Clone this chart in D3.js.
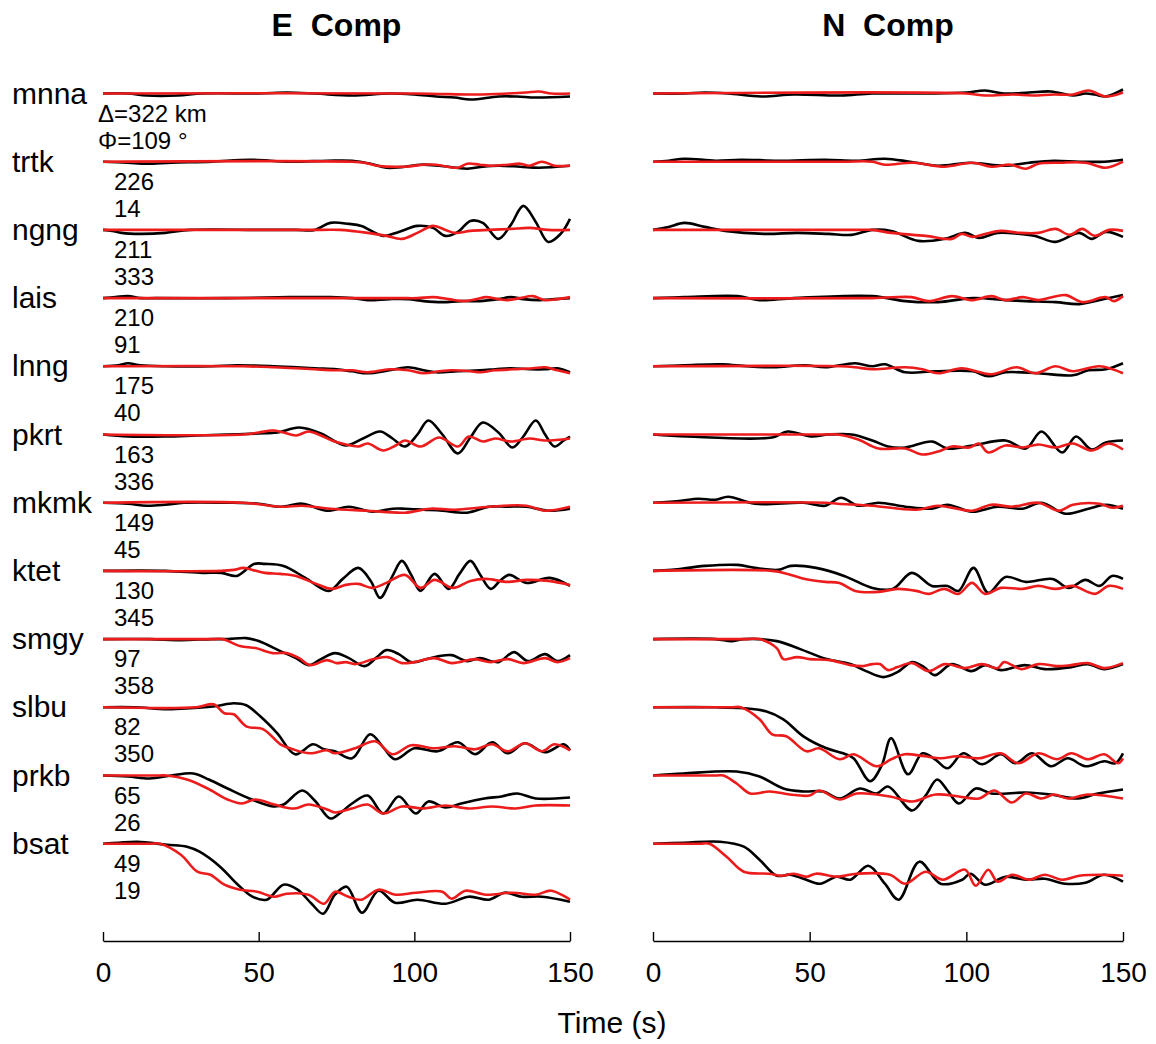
<!DOCTYPE html>
<html lang="en">
  <head>
    <meta charset="UTF-8" />
    <title>E / N Comp</title>
    <script src="https://cdn.jsdelivr.net/npm/d3@7"></script>
    <style>
      body { margin: 0; background: #fff; }
      text { font-family: "Liberation Sans", Arial, Helvetica, sans-serif; }
    </style>
  </head>
  <body>
    <div id="chart"></div>
    <script>
      // stations, top to bottom, with epicentral distance (km) and azimuth (deg)
      const stations = ["mnna", "trtk", "ngng", "lais", "lnng", "pkrt", "mkmk", "ktet", "smgy", "slbu", "prkb", "bsat"];
      const distances = [322, 226, 211, 210, 175, 163, 149, 130, 97, 82, 65, 49];
      const azimuths = [109, 14, 333, 91, 40, 336, 45, 345, 358, 350, 26, 19];
      const panelTitles = ["E  Comp", "N  Comp"];
      const timeTicks = [0, 50, 100, 150];

      // waveforms as [time (s), amplitude] pairs, one list per station
      // observed (black) and synthetic (red), E component
      const eObs = [
        [[0,0],[8,0],[14,-2],[24,-2],[32,0],[50,0],[59,1],[68,0],[80,-2],[92,0],[100,-1],[107,-3],[113,-4],[118,-6],[127,-3],[133,-3],[139,-4],[150,-3]],
        [[0,0],[8,-1],[14,-2],[22,-1],[35,0],[47,2],[60,0],[72,1],[80,1],[86,-2],[91,-6],[97,-5],[102,-3],[108,-4],[117,-7],[122,-5],[127,-4],[134,-5],[140,-6],[150,-4]],
        [[0,0],[3,-1],[6,-3],[12,-4],[20,-3],[28,0],[50,0],[62,0],[68,0],[73,7],[79,6],[83,4],[90,-6],[95,-2],[101,4],[106,2],[110,-6],[114,-2],[118,9],[122,7],[127,-9],[131,5],[135,24],[139,8],[143,-12],[147,-4],[150,11]],
        [[0,0],[4,1],[8,2],[12,0],[17,0],[40,0],[60,1],[73,1],[80,0],[85,-2],[92,-1],[98,-1],[103,-3],[109,-4],[115,-3],[121,-3],[127,-1],[131,1],[135,-1],[140,-2],[145,-1],[150,0]],
        [[0,0],[5,1],[8,3],[12,1],[20,0],[35,0],[43,1],[55,0],[68,-2],[75,-3],[80,-5],[85,-7],[92,-4],[98,-1],[103,-4],[107,-6],[114,-5],[121,-4],[126,-3],[131,-2],[137,-3],[142,-3],[146,-2],[150,-6]],
        [[0,0],[8,-2],[20,-2],[30,-1],[40,0],[50,1],[56,2],[63,7],[70,1],[74,-6],[78,-11],[83.5,-4],[89,3],[93,-4],[97,-12],[101,0],[104.5,14],[109,0],[114,-19],[118,-3],[122,12],[127,2],[131.5,-13],[135,-2],[139,14],[142,0],[145,-12],[148,-6],[150,-2]],
        [[0,0],[8,-1],[14,-3],[20,-2],[26,0],[40,0],[50,-1],[57,-4],[64,-1],[72,-8],[79,-4],[86.5,-9],[93,-6],[97,-6],[103,-7],[109,-8],[117,-10],[124,-4],[130,-4],[136,-4],[143,-8],[150,-6]],
        [[0,0],[20,0],[32,-2],[38,-2],[43,-5],[48.5,7],[52,7],[58,5],[65,-7],[72.5,-20],[77,-8],[82,3],[86,-10],[89,-27],[93,-5],[96,10],[99,-4],[102,-20],[106.5,-3],[111,-18],[114.5,-3],[118,10],[121,-3],[124.5,-18],[127.5,-10],[130.5,-4],[136,-12],[143.5,-7],[150,-15]],
        [[0,0],[15,0],[25,-1],[35,0],[40,0],[46,1],[50,-2],[57,-12],[62,-19],[66,-26],[70,-20],[74.5,-14],[79,-19],[84,-27],[88,-18],[91,-11],[95,-15],[99,-23],[104,-20],[108,-17],[112,-16],[117,-22],[121,-19],[127,-23],[132,-13],[136.5,-22],[142,-15],[146,-22],[150,-16]],
        [[0,0],[10,0],[20.5,-2],[28,-1],[36,1],[42,4],[46,2],[50.5,-9],[56,-26],[61.7,-47],[67.5,-37],[71,-42],[74.5,-44],[80,-51],[85.8,-27],[90,-40],[93.8,-52],[100,-41],[107.5,-44],[114,-35],[119.5,-47],[125,-35],[130,-46],[135.5,-36],[142,-45],[148,-37],[150,-43]],
        [[0,0],[8,-1],[15,-3],[22,0],[29,2],[34,-4],[40,-13],[47,-23],[54.7,-31],[58,-29],[64,-15],[68,-25],[73,-43],[76,-38],[80,-28],[85,-20],[90,-38],[95,-21],[100.5,-38],[104.5,-26],[110,-32],[115,-28],[122.5,-23],[128,-21],[133,-18],[139,-23],[150,-22]],
        [[0,0],[5,1],[11,2],[20.5,-1],[27,-3],[31,-8],[37.6,-23],[43,-40],[48,-53],[52.6,-56],[58,-41],[62.5,-46],[67,-60],[70.7,-70],[74.5,-51],[78.3,-43],[83.2,-69],[88.5,-47],[93.8,-59],[101,-56],[110,-60],[117.5,-53],[124,-56],[129,-49],[134.5,-53],[141,-53],[150,-58]]
      ];
      const eSyn = [
        [[0,0],[100,0],[120,-1],[130,0],[136,1],[140,2],[144,0],[150,0]],
        [[0,0],[80,0],[84,-1],[88,-4],[97,-5],[103,-3],[107,-3],[114,-6],[117,-2],[121,-3],[125,-4],[130,-3],[134,-2],[137,-4],[141,0],[145,-4],[150,-4]],
        [[0,0],[70,0],[76,0],[85,-3],[91,-6],[96,-9],[101,-3],[106,4],[110,0],[113,-3],[118,-1],[124,0],[131,1],[137,2],[143,0],[150,0]],
        [[0,0],[95,0],[101,0],[106,1],[111,-1],[116,-3],[120,-1],[123,1],[127,-1],[130,-2],[134,0],[138,2],[142,-2],[146,-1],[150,1]],
        [[0,0],[45,0],[55,-1],[62,-2],[68,-3],[75,-4],[80,-4],[85,-6],[92,-3],[98,-4],[103,-7],[108,-5],[112,-4],[118,-5],[121,-6],[126,-4],[132,-3],[138,-2],[142,-1],[146,-4],[150,-7]],
        [[0,0],[45,0],[50,2],[54.5,4],[58,2],[62,-1],[66,3],[70,-1],[73.5,-6],[78,-10],[82,-12],[85,-9],[90,-16],[94,-11],[97,-6],[102,-12],[108,-3],[114,-12],[117.5,-2],[122,-7],[126,-4],[131,-7],[137,-4],[142,-6],[150,-4]],
        [[0,0],[45,0],[57,-4],[64,-3],[73,-6],[85,-8],[97,-10],[105,-6],[113,-7],[124,-4],[136,-3],[142,-8],[150,-4]],
        [[0,0],[38,0],[42,1],[45,3],[48,1],[52,-2],[57,-3],[62,-5],[68.5,-13],[73.5,-18],[78,-14],[82,-13],[86.5,-17],[91,-12],[97,-4],[102,-17],[106.5,-9],[112.5,-17],[118,-10],[123,-8],[130,-11],[136,-9],[143,-10],[150,-14]],
        [[0,0],[35,0],[38.5,0],[44,-7],[49,-9],[54.5,-14],[59,-14],[63,-19],[66.5,-26],[72,-21],[75,-24],[78,-23],[81,-25],[87,-20],[91.5,-18],[96,-24],[100,-23],[106.5,-19],[112,-24],[119.5,-20],[124.5,-23],[130,-20],[135,-24],[142,-19],[146,-23],[150,-19]],
        [[0,0],[30,0],[35.5,3],[39,-6],[42,-7],[46,-19],[51.5,-22],[57,-37],[61,-42],[66.5,-46],[72,-43],[74.5,-46],[81,-41],[87.4,-34],[93,-47],[99,-38],[106.5,-41],[113,-39],[119.5,-42],[125,-37],[130,-44],[135.5,-36],[141,-44],[145,-37],[150,-43]],
        [[0,0],[18,0],[20.5,0],[27,-4],[33.6,-13],[40,-24],[44.5,-28],[49,-24],[55,-29],[61.5,-33],[66,-29],[72,-34],[74.5,-37],[80,-33],[85,-29],[90,-38],[96,-31],[102.7,-33],[110,-30],[117.5,-33],[125,-31],[132.5,-33],[139,-30],[150,-30]],
        [[0,0],[15,0],[18.3,0],[25,-11],[30.3,-28],[34.5,-31],[39,-41],[44,-46],[49.5,-48],[55,-53],[59,-50],[66,-51],[71,-60],[74.5,-48],[78.8,-53],[83,-56],[88.5,-46],[94,-51],[100.5,-49],[109,-48],[112,-55],[116.4,-47],[123,-51],[131.5,-49],[139,-51],[144,-47],[150,-56]]
      ];
      // observed (black) and synthetic (red), N component
      const nObs = [
        [[0,0],[10,0],[16.5,1],[24,0],[34.6,-3],[45,-1],[60,-2],[70,0],[90,0],[100,1],[106,3],[112,0],[120,1],[127,2],[134,-2],[138,0],[141,-1],[144.5,-3],[150,4]],
        [[0,0],[5,1],[10,3],[20,1],[28,2],[40,1],[55,2],[65,1],[74,3],[82,0],[91,-4],[101,-1],[112.5,-4],[120,-1],[128,1],[136,0],[144,0],[150,2]],
        [[0,0],[5,3],[10,7],[16.5,3],[23,-1],[35.7,-4],[46,-3],[56,-4],[63.4,-5],[70,0],[76,-1],[84.7,-11],[93,-9],[99.7,-3],[104,-8],[110,-3],[117,-4],[122,-6],[128.5,-12],[136,-3],[140,-9],[144.5,-2],[150,-7]],
        [[0,0],[10,1],[27,2],[34,-2],[45,0],[70,2],[80.5,-3],[91,-4],[102,0],[112.5,-2],[119,-3],[128.5,-4],[136,-6],[144,-1],[150,3]],
        [[0,0],[10,1],[22,2],[30,0],[38.5,-1],[48.5,1],[55,-1],[64.5,3],[70,0],[74,2],[80.5,-6],[90,-5],[102,-5],[107,-10],[112.5,-6],[123,-7],[134,-9],[139,-4],[144.5,-3],[150,3]],
        [[0,0],[11,-2],[38,-3],[43,3],[50.5,-2],[56,0],[63.4,0],[70,-6],[75,-12],[80.5,-13],[89,-7],[94,-14],[102,-11],[112.5,-6],[119,-14],[124,3],[130.6,-18],[135,-2],[140,-15],[144.5,-8],[150,-6]],
        [[0,0],[9,2],[14.4,4],[20,3],[24,6],[32.5,-1],[48,0],[55,-3],[60,5],[65.5,-3],[72,0],[80.5,-4],[89,-6],[94,-2],[101.8,-9],[110,-4],[118,-6],[124,0],[131.6,-11],[139,-6],[144.5,-2],[150,-6]],
        [[0,0],[6,1],[16.5,5],[27,6],[32.5,3],[40,1],[44,5],[52,3],[61,-5],[70,-17],[76.5,-18],[82.6,-2],[89,-15],[94,-15],[97.5,-20],[102.3,3],[107,-22],[112.5,-6],[119,-11],[127.5,-8],[132.7,-17],[138,-9],[142.5,-15],[146.5,-5],[150,-8]],
        [[0,0],[20,0],[25,-2],[29,0],[39.5,-2],[47,-10],[55.4,-20],[63,-25],[68,-32],[73.5,-38],[78,-33],[82.7,-23],[86.5,-28],[90,-36],[95.3,-25],[101.6,-32],[106,-26],[111,-31],[118.6,-26],[125,-30],[133.5,-28],[138.8,-25],[144,-30],[150,-25]],
        [[0,0],[20,0],[29,-1],[36,-4],[41.6,-12],[48,-29],[55.4,-41],[60.7,-46],[64,-51],[69.3,-74],[73,-58],[76,-31],[81.4,-67],[86,-46],[90,-52],[94,-61],[99,-46],[105,-57],[111,-47],[115.6,-56],[121,-46],[127,-59],[132.4,-51],[138,-59],[144,-54],[147.5,-56],[150,-46]],
        [[0,0],[9.7,2],[26.7,4],[34,-1],[41.6,-13],[48,-16],[54.4,-16],[59.6,-23],[66,-13],[71.4,-18],[75,-11],[82.7,-35],[87,-20],[90.7,-4],[94,-15],[97.6,-28],[103,-13],[108,-18],[119,-17],[127,-19],[135.6,-23],[142,-18],[150,-14]],
        [[0,0],[10,1],[21.4,2],[29,-3],[34,-16],[39.5,-32],[43.7,-31],[48,-35],[53.3,-40],[58.6,-33],[63,-36],[68.7,-22],[74,-40],[78.4,-56],[85,-18],[91.8,-40],[98.7,-36],[101.3,-30],[106,-41],[112.5,-33],[119,-36],[125,-35],[131.5,-40],[138,-39],[144,-31],[150,-38]]
      ];
      const nSyn = [
        [[0,0],[100,0],[106,-2],[115,-1],[121,-2],[128,-1],[134,-1],[139,3],[144.5,-3],[150,1]],
        [[0,0],[60,0],[70,0],[74,-3],[83,-1],[93,-5],[102,-1],[108,-5],[114,-3],[119,-7],[123,-2],[130,-1],[138,-1],[144.5,-6],[150,0]],
        [[0,0],[65,0],[70,0],[76,-3],[87,-6],[95.4,-9],[98.5,-4],[102,-7],[106,-4],[111,-1],[117,-3],[123,-3],[128.5,1],[133,-5],[137,1],[141,-6],[145.5,0],[150,-1]],
        [[0,0],[70,0],[82.5,1],[88,-3],[95.4,2],[102,-2],[108,2],[112.5,-2],[118,1],[123,-2],[131.6,3],[137,-4],[144.5,1],[147,-3],[150,2]],
        [[0,0],[60,0],[64.5,-1],[70,-3],[80.5,-1],[86,-3],[91,-7],[98.5,-2],[108,-8],[116,-1],[122,-7],[128.5,0],[134,-5],[142.5,0],[150,-7]],
        [[0,0],[55,0],[59,0],[65.5,-5],[72,-14],[80.5,-14],[86,-20],[91,-17],[95.4,-12],[101,-13],[104,-9],[107,-18],[112.5,-11],[118,-13],[123,-10],[128.5,-13],[134,-9],[140,-16],[145.5,-9],[150,-15]],
        [[0,0],[55,0],[59,-1],[70,-3],[84,-7],[91,-3],[101.8,-8],[108,-2],[114.5,-4],[123,0],[129.5,-8],[134,-2],[142.5,-1],[146.5,-5],[150,-3]],
        [[0,0],[38,0],[43,-3],[48.5,-8],[55,-11],[59.5,-12],[64.5,-20],[72,-21],[78,-18],[84,-20],[88,-23],[93,-18],[97.5,-23],[101.8,-12],[106,-23],[111,-17],[118,-18],[123,-15],[128.5,-18],[134,-15],[141,-23],[145.5,-15],[150,-18]],
        [[0,0],[30,0],[34,0],[39.5,-9],[41.6,-20],[46,-18],[50,-20],[56.5,-21],[63,-26],[67,-27],[70,-25],[72.4,-25],[75,-31],[78,-28],[82.7,-24],[88,-32],[93.2,-25],[99.6,-29],[105,-25],[110,-29],[112,-23],[117.5,-30],[123,-25],[129,-27],[133.5,-26],[138.8,-24],[144,-29],[150,-24]],
        [[0,0],[25,0],[28,0],[34,-12],[38,-27],[42.5,-29],[49,-44],[53,-41],[59.6,-52],[64,-47],[71.4,-59],[76,-52],[80.3,-47],[86.7,-49],[92,-51],[97,-49],[104,-51],[111,-46],[116.6,-56],[123,-46],[129,-52],[133.5,-46],[138.8,-52],[144,-47],[148.5,-56],[150,-51]],
        [[0,0],[20,0],[22.5,0],[26.7,-8],[31,-18],[37.3,-16],[43.7,-19],[50,-20],[53,-15],[59.6,-24],[65,-18],[75.6,-21],[82.7,-26],[90.2,-19],[97.6,-21],[104,-23],[109,-15],[114.5,-27],[119,-18],[124,-23],[128,-19],[132.4,-23],[138.8,-19],[150,-23]],
        [[0,0],[15,0],[18,0],[23.5,-13],[29,-28],[37,-30],[41,-32],[45,-30],[49,-33],[52,-30],[58.6,-33],[65,-30],[75.6,-31],[80.5,-40],[87,-28],[92.5,-36],[99.6,-26],[103,-42],[107,-26],[110,-38],[114.6,-31],[120,-36],[125,-31],[130.5,-36],[136,-32],[143,-31],[150,-32]]
      ];

      let width = 1156;
      let height = 1044;

      let svg = d3
        .select("#chart")
        .append("svg")
        .attr("width", width)
        .attr("height", height)
        .style("display", "block")
        .style("background", "#fff");

      // vertical placement of each station row
      let rowY = d3.scaleLinear().domain([0, stations.length - 1]).range([93.5, 843.7]);
      // amplitude -> pixel offset (up is positive)
      let amp = d3.scaleLinear().domain([-100, 100]).range([100, -100]);

      let panels = [
        { title: panelTitles[0], left: 103, right: 570, obs: eObs, syn: eSyn },
        { title: panelTitles[1], left: 653, right: 1123, obs: nObs, syn: nSyn },
      ];

      let axisY = 941;

      panels.forEach(function (p) {
        let x = d3.scaleLinear().domain([0, 150]).range([p.left, p.right]);
        let g = svg.append("g");

        g.append("text")
          .attr("x", (p.left + p.right) / 2)
          .attr("y", 36)
          .attr("text-anchor", "middle")
          .attr("font-size", "32px")
          .attr("font-weight", "bold")
          .style("white-space", "pre")
          .text(p.title);

        let drawTrace = function (data, color) {
          g.selectAll(null)
            .data(data)
            .enter()
            .append("path")
            .attr("fill", "none")
            .attr("stroke", color)
            .attr("stroke-width", 2.6)
            .attr("stroke-linejoin", "round")
            .attr("d", function (d, i) {
              let base = rowY(i);
              return d3
                .line()
                .x(function (v) { return x(v[0]); })
                .y(function (v) { return base + amp(v[1]); })
                .curve(d3.curveCatmullRom.alpha(0.5))(d);
            });
        };
        drawTrace(p.obs, "#000");
        drawTrace(p.syn, "#ec1c1c");

        let axis = d3
          .axisBottom(x)
          .tickValues(timeTicks)
          .tickSize(-9)
          .tickSizeOuter(0)
          .tickPadding(21);

        let ax = g.append("g").attr("transform", "translate(0," + axisY + ")").call(axis);
        ax.select(".domain").attr("stroke", "#000").attr("stroke-width", 1.4);
        ax.selectAll(".tick line").attr("stroke", "#000").attr("stroke-width", 1.4);
        ax.selectAll(".tick text")
          .attr("font-size", "28px")
          .attr("font-family", "'Liberation Sans', Arial, sans-serif")
          .attr("fill", "#000");
      });

      // station names
      svg
        .append("g")
        .selectAll("text")
        .data(stations)
        .enter()
        .append("text")
        .attr("x", 12)
        .attr("y", function (d, i) { return rowY(i) + 10; })
        .attr("font-size", "30px")
        .text(function (d) { return d; });

      // distance and azimuth under each station
      svg
        .append("g")
        .selectAll("text")
        .data(distances)
        .enter()
        .append("text")
        .attr("x", function (d, i) { return i === 0 ? 98 : 114; })
        .attr("y", function (d, i) { return rowY(i) + 28; })
        .attr("font-size", "24px")
        .text(function (d, i) { return i === 0 ? "\u0394=" + d + " km" : d; });

      svg
        .append("g")
        .selectAll("text")
        .data(azimuths)
        .enter()
        .append("text")
        .attr("x", function (d, i) { return i === 0 ? 98 : 114; })
        .attr("y", function (d, i) { return rowY(i) + 55; })
        .attr("font-size", "24px")
        .text(function (d, i) { return i === 0 ? "\u03A6=" + d + " \u00B0" : d; });

      svg
        .append("text")
        .attr("x", 612)
        .attr("y", 1033)
        .attr("text-anchor", "middle")
        .attr("font-size", "30px")
        .text("Time (s)");
    </script>
  </body>
</html>
